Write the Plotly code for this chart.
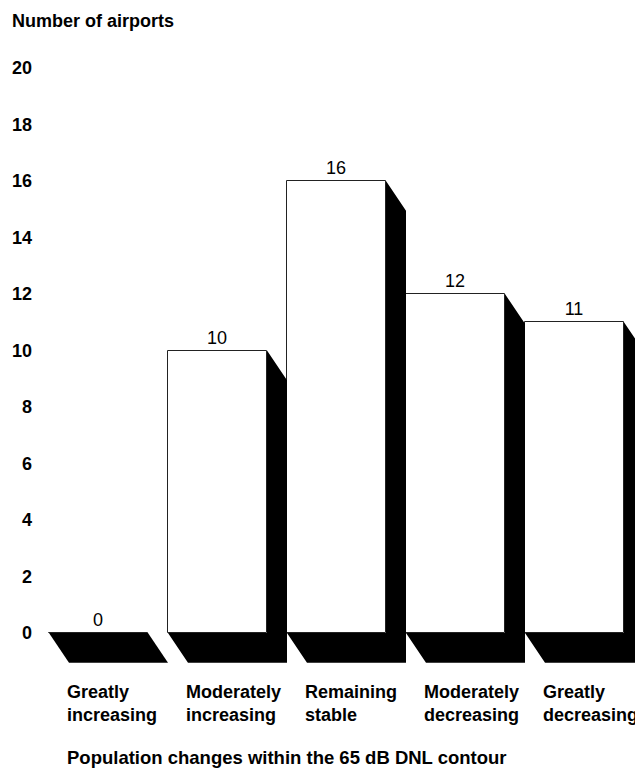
import plotly.graph_objects as go

categories = ["Greatly<br>increasing", "Moderately<br>increasing", "Remaining<br>stable",
              "Moderately<br>decreasing", "Greatly<br>decreasing"]
airports = [0, 10, 16, 12, 11]
y_ticks = [0, 2, 4, 6, 8, 10, 12, 14, 16, 18, 20]
y_title = "Number of airports"
x_title = "Population changes within the 65 dB DNL contour"

OFF = 8                      # page body margin
W, H = 643 - 2 * OFF, 768 - OFF
ML, MR, MT, MB = 29, 0, 32, 90
PW, PH = W - ML - MR, H - MT - MB
FONT = "Liberation Sans, Arial, Helvetica, sans-serif"
FS = 18

# geometry in data units
bar_w = 0.832
depth_x = 1 - bar_w
depth_y = 1.05
x_pos = list(range(len(categories)))
plot_left = OFF + ML
plot_right = OFF + W - MR
plot_top = OFF + MT
plot_bottom = OFF + H - MB
x_range = [(plot_left - 98.5) / 119.0, (plot_right - 98.5) / 119.0]
y_range = [-(plot_bottom - 633) / 28.25, (633 - plot_top) / 28.25]


def px(xp):
    return (xp - plot_left) / PW


def py(yp):
    return (plot_bottom - yp) / PH


fig = go.Figure()

# black extruded sides + floors, computed from the data
for xi, v in zip(x_pos, airports):
    left, right = xi - bar_w / 2, xi + bar_w / 2
    xs = [left, right, right, right + depth_x, right + depth_x, left + depth_x, left]
    ys = [0, 0, v, v - depth_y, -depth_y, -depth_y, 0]
    fig.add_trace(go.Scatter(x=xs, y=ys, fill="toself", fillcolor="black",
                             mode="lines", line=dict(color="black", width=0),
                             hoverinfo="skip", showlegend=False))

fig.add_trace(go.Bar(
    x=x_pos, y=airports, width=bar_w,
    marker=dict(color="white", line=dict(color="#222", width=1)),
    text=[str(v) for v in airports], textposition="outside",
    textfont=dict(family=FONT, size=FS, color="black"),
    cliponaxis=False, showlegend=False,
))

annotations = []
annotations.append(dict(text="<b>%s</b>" % y_title, xref="paper", yref="paper",
                        x=px(10), y=py(21), xanchor="left", yanchor="middle",
                        showarrow=False, font=dict(family=FONT, size=FS, color="black")))
for xi, cat in zip(x_pos, categories):
    annotations.append(dict(text="<b>%s</b>" % cat, xref="x", yref="paper",
                            x=xi - bar_w / 2 + depth_x, y=py(703), xshift=-4,
                            xanchor="left", yanchor="middle", align="left",
                            showarrow=False, font=dict(family=FONT, size=FS, color="black")))
annotations.append(dict(text="<b>%s</b>" % x_title, xref="paper", yref="paper",
                        x=px(65), y=py(757), xanchor="left", yanchor="middle",
                        showarrow=False, font=dict(family=FONT, size=18.5, color="black")))

fig.update_layout(
    width=W, height=H,
    margin=dict(l=ML, r=MR, t=MT, b=MB),
    paper_bgcolor="white", plot_bgcolor="white",
    font=dict(family=FONT, size=FS, color="black"),
    xaxis=dict(range=x_range, showticklabels=False, showgrid=False, zeroline=False,
               showline=False, ticks=""),
    yaxis=dict(range=y_range, tickvals=y_ticks, ticktext=["<b>%d</b>" % t for t in y_ticks],
               showgrid=False, zeroline=False, showline=False, ticks="",
               tickfont=dict(family=FONT, size=FS, color="black"), ticklabelstandoff=4),
    annotations=annotations,
    bargap=0,
)

fig.write_html("out.html")
